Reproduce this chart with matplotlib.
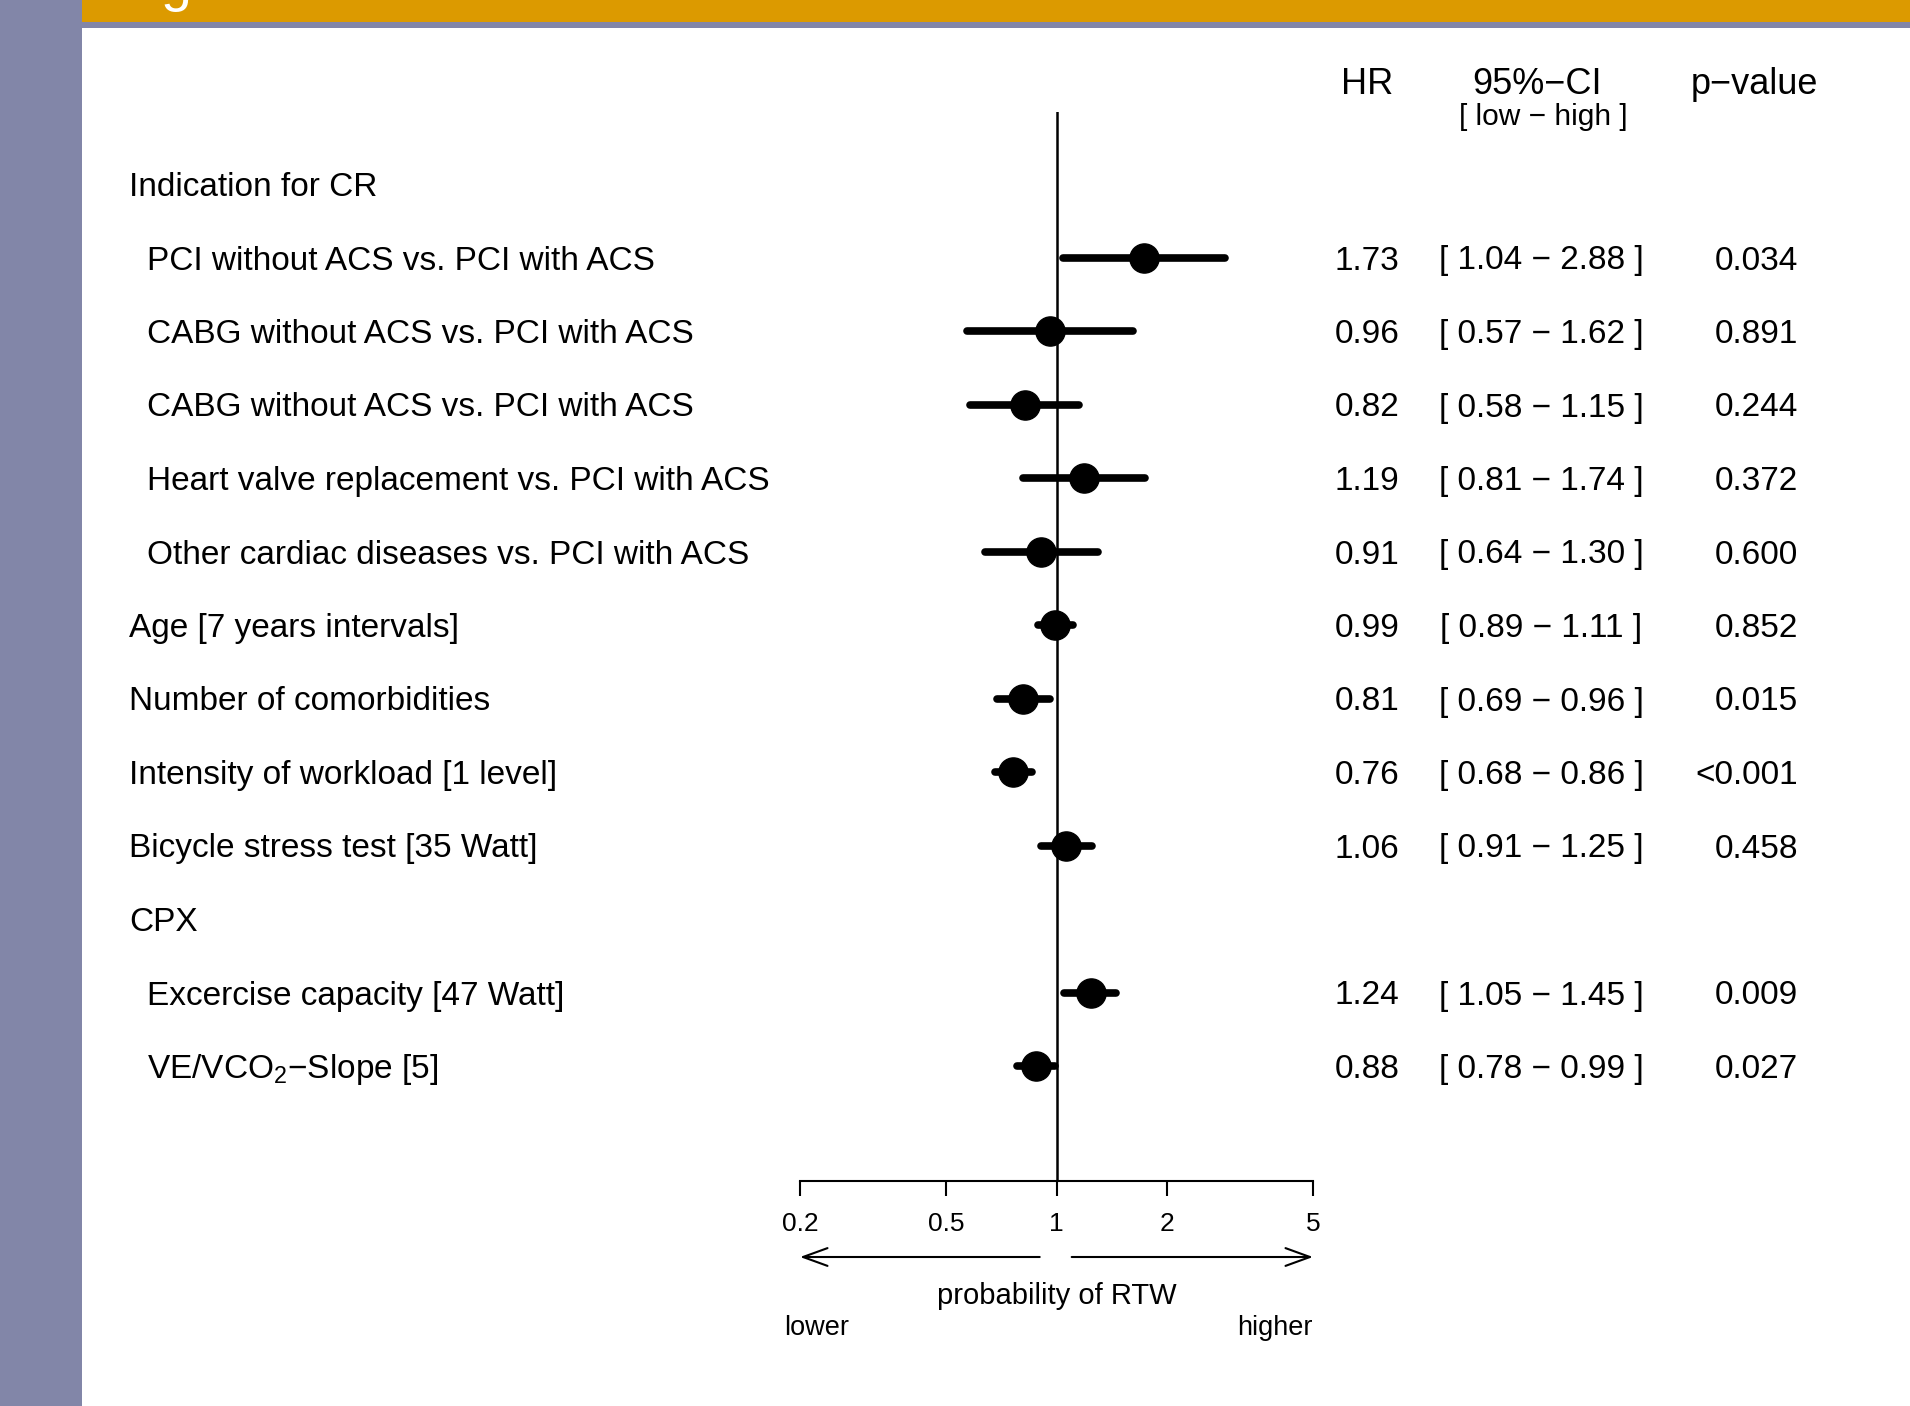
import matplotlib.pyplot as plt
import matplotlib.transforms as mtransforms
import numpy as np

labels = ["Indication for CR",
          "PCI without ACS vs. PCI with ACS",
          "CABG without ACS vs. PCI with ACS",
          "CABG without ACS vs. PCI with ACS",
          "Heart valve replacement vs. PCI with ACS",
          "Other cardiac diseases vs. PCI with ACS",
          "Age [7 years intervals]",
          "Number of comorbidities",
          "Intensity of workload [1 level]",
          "Bicycle stress test [35 Watt]",
          "CPX",
          "Excercise capacity [47 Watt]",
          "VE/VCO$_2$\u2212Slope [5]"]
indent = [0, 1, 1, 1, 1, 1, 0, 0, 0, 0, 0, 1, 1]
hr = [np.nan, 1.73, 0.96, 0.82, 1.19, 0.91, 0.99, 0.81, 0.76, 1.06, np.nan, 1.24, 0.88]
ci_low = [np.nan, 1.04, 0.57, 0.58, 0.81, 0.64, 0.89, 0.69, 0.68, 0.91, np.nan, 1.05, 0.78]
ci_high = [np.nan, 2.88, 1.62, 1.15, 1.74, 1.30, 1.11, 0.96, 0.86, 1.25, np.nan, 1.45, 0.99]
pvals = ["", "0.034", "0.891", "0.244", "0.372", "0.600", "0.852", "0.015", "<0.001", "0.458",
         "", "0.009", "0.027"]
ticks = [0.2, 0.5, 1, 2, 5]
tick_labels = ["0.2", "0.5", "1", "2", "5"]

plt.rcParams['font.family'] = ['Liberation Sans', 'DejaVu Sans']
plt.rcParams['mathtext.fontset'] = 'custom'
plt.rcParams['mathtext.rm'] = 'Liberation Sans'
plt.rcParams['mathtext.it'] = 'Liberation Sans:italic'

W, H = 1910, 1406
fig = plt.figure(figsize=(W / 100, H / 100), dpi=100, facecolor='#8286a8')

# slide background: white panel, orange title bar
fig.patches.append(plt.Rectangle((82 / W, 0), 1 - 82 / W, 1 - 28 / H, transform=fig.transFigure,
                                 facecolor='white', edgecolor='none', zorder=-2))
fig.patches.append(plt.Rectangle((82 / W, 1 - 22 / H), 1 - 82 / W, 22 / H, transform=fig.transFigure,
                                 facecolor='#dc9a00', edgecolor='none', zorder=-2))
fig.text(161 / W, 1.0, "g", color='white', fontsize=40, ha='left', va='baseline')

# forest axes
top_px, bot_px = 112, 1181
ax = fig.add_axes([800 / W, 1 - bot_px / H, 513 / W, (bot_px - top_px) / H])
ax.set_facecolor('none')
ax.set_xscale('log')
ax.set_xlim(0.2, 5)
step = (1066 - 184) / 12
ax.set_ylim((bot_px - 184) / step, (top_px - 184) / step)
for s in ['top', 'left', 'right']:
    ax.spines[s].set_visible(False)
ax.spines['bottom'].set_linewidth(1.5)
ax.set_yticks([])
ax.set_xticks(ticks)
ax.set_xticklabels(tick_labels, fontsize=19)
ax.minorticks_off()
ax.tick_params(axis='x', direction='out', length=11, width=1.5, pad=11)

ax.axvline(1, color='black', lw=1.8, zorder=1)

rows = np.arange(len(labels))
for i in rows:
    if np.isnan(hr[i]):
        continue
    ax.plot([ci_low[i], ci_high[i]], [i, i], color='black', lw=5.5, solid_capstyle='round', zorder=2)
    ax.plot(hr[i], i, 'o', color='black', markersize=21, zorder=3)

tr = mtransforms.blended_transform_factory(fig.transFigure, ax.transData)
tr = mtransforms.offset_copy(tr, fig, y=-3.5, units='dots')
for i in rows:
    x = 147 / W if indent[i] else 129 / W
    fig.text(x, i, labels[i], transform=tr, fontsize=24, ha='left', va='center')
    if not np.isnan(hr[i]):
        fig.text(1367 / W, i, f"{hr[i]:.2f}", transform=tr, fontsize=24, ha='center', va='center')
        fig.text(1541 / W, i, f"[ {ci_low[i]:.2f} \u2212 {ci_high[i]:.2f} ]", transform=tr,
                 fontsize=24, ha='center', va='center')
        fig.text(1798 / W, i, pvals[i], transform=tr, fontsize=24, ha='right', va='center')

# column headers
fig.text(1367 / W, 1 - 85 / H, "HR", fontsize=26, ha='center', va='center')
fig.text(1537 / W, 1 - 85 / H, "95%\u2212CI", fontsize=26, ha='center', va='center')
fig.text(1543 / W, 1 - 117 / H, "[ low \u2212 high ]", fontsize=21.5, ha='center', va='center')
fig.text(1754 / W, 1 - 85 / H, "p\u2212value", fontsize=26, ha='center', va='center')

# direction arrows below the axis
arrow_y = H - 1257
arw = dict(arrowstyle='->,head_length=1.1,head_width=0.4', lw=1.5, color='black',
           shrinkA=0, shrinkB=0, mutation_scale=16)
ax.annotate("", xy=(0.2, arrow_y), xytext=(0.9, arrow_y),
            xycoords=('data', 'figure pixels'), textcoords=('data', 'figure pixels'), arrowprops=arw)
ax.annotate("", xy=(5, arrow_y), xytext=(1.1, arrow_y),
            xycoords=('data', 'figure pixels'), textcoords=('data', 'figure pixels'), arrowprops=arw)
ax.annotate("probability of RTW", xy=(1, H - 1296), xycoords=('data', 'figure pixels'),
            fontsize=21, ha='center', va='center')
ax.annotate("lower", xy=(784, H - 1328), xycoords='figure pixels', fontsize=19.5, ha='left', va='center')
ax.annotate("higher", xy=(5, H - 1328), xycoords=('data', 'figure pixels'),
            fontsize=19.5, ha='right', va='center')

fig.savefig("out.png", dpi=100, facecolor=fig.get_facecolor())
